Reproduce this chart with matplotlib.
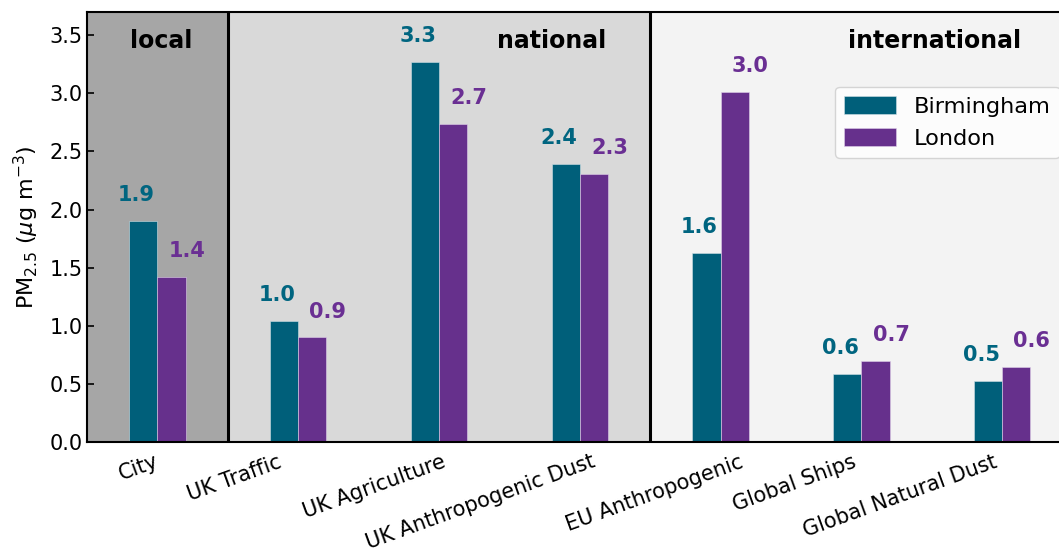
import matplotlib
matplotlib.use("Agg")
import matplotlib.pyplot as plt
import matplotlib.transforms as mtransforms
import numpy as np

categories = ["City", "UK Traffic", "UK Agriculture", "UK Anthropogenic Dust",
              "EU Anthropogenic", "Global Ships", "Global Natural Dust"]
birmingham = [1.90, 1.04, 3.27, 2.39, 1.63, 0.585, 0.527]
london = [1.42, 0.90, 2.74, 2.31, 3.01, 0.696, 0.645]
series_names = ["Birmingham", "London"]
regions = ["local", "national", "international"]
y_ticks = [0.0, 0.5, 1.0, 1.5, 2.0, 2.5, 3.0, 3.5]

col_bham = "#005f7a"
col_lon = "#66308c"

fig = plt.figure(figsize=(10.59, 5.54), dpi=100)
ax = fig.add_axes([0.0822, 0.2022, 0.9306, 0.7762])

x = np.arange(len(categories))
width = 0.2

# shaded source regions
ax.axvspan(-0.5, 0.5, color="#a6a6a6", zorder=0, lw=0)
ax.axvspan(0.5, 3.5, color="#d9d9d9", zorder=0, lw=0)
ax.axvspan(3.5, 6.5, color="#f3f3f3", zorder=0, lw=0)
ax.axvline(0.5, color="black", lw=2.2, zorder=1)
ax.axvline(3.5, color="black", lw=2.2, zorder=1)

ax.bar(x - width / 2, birmingham, width, color=col_bham, edgecolor="#d0e0e6",
       linewidth=0.4, label=series_names[0], zorder=2)
ax.bar(x + width / 2, london, width, color=col_lon, edgecolor="#e0d0ea",
       linewidth=0.4, label=series_names[1], zorder=2)

for xi, v in zip(x, birmingham):
    ax.text(xi - 0.15, v + 0.17, f"{v:.1f}", ha="center", va="baseline",
            color="#006580", fontsize=15, fontweight="bold", zorder=3)
for xi, v in zip(x, london):
    ax.text(xi + 0.21, v + 0.17, f"{v:.1f}", ha="center", va="baseline",
            color="#6a2f93", fontsize=15, fontweight="bold", zorder=3)

# region titles
region_x = [0.03, 2.8, 5.52]
for rx, name in zip(region_x, regions):
    ax.text(rx, 3.45, name, ha="center", va="center", fontsize=17,
            fontweight="bold", color="black", zorder=3)

ax.set_xlim(-0.5, 6.5)
ax.set_ylim(0, 3.7)
ax.set_yticks(y_ticks)
ax.set_yticklabels([f"{t:.1f}" for t in y_ticks], fontsize=15)
ax.tick_params(axis="y", direction="in", length=5, width=1.2, pad=3)
ax.set_xticks(x)
ax.set_xticklabels(categories, fontsize=15, rotation=20, ha="right", va="top")
ax.tick_params(axis="x", length=0, pad=7)

# small horizontal nudges of the rotated category labels
nudges = [4, -14, 9, 18, 25, -3, -2]
for lab, dx in zip(ax.get_xticklabels(), nudges):
    lab.set_transform(lab.get_transform() +
                      mtransforms.ScaledTranslation(dx / 100, 0, fig.dpi_scale_trans))

ax.set_ylabel(r"PM$_{2.5}$ ($\mu$g m$^{-3}$)", fontsize=16, labelpad=6)

for s in ax.spines.values():
    s.set_linewidth(1.5)
    s.set_zorder(4)

leg = ax.legend(loc="upper left", bbox_to_anchor=(0.759, 0.826), borderaxespad=0,
                fontsize=16.2, handlelength=2.3, handleheight=0.85, framealpha=0.8,
                edgecolor="#cccccc", fancybox=True)

fig.savefig("out.png", dpi=100)
